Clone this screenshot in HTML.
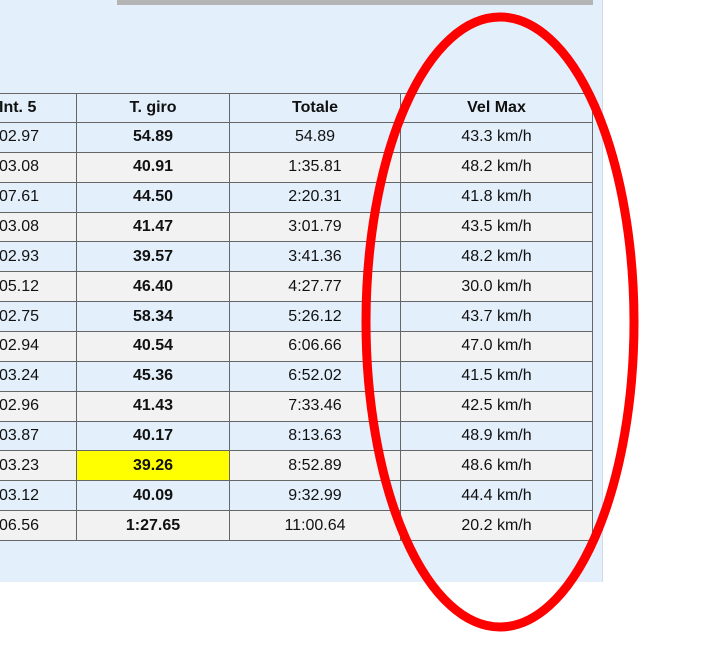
<!DOCTYPE html>
<html><head><meta charset="utf-8"><style>
body{margin:0;width:703px;height:665px;background:#fff;position:relative;overflow:hidden;font-family:"Liberation Sans",Arial,sans-serif}
#panel{position:absolute;left:0;top:0;width:603px;height:582px;background:#e3effb;border-right:1px solid #cfdbe6;box-sizing:border-box}
#bar{position:absolute;left:117px;top:0;width:476px;height:5px;background:#b4b4b4}
table{position:absolute;left:-2px;top:93px;border-collapse:collapse;table-layout:fixed}
td,th{border:1px solid #666;padding:0;text-align:center;font-size:16px;color:#111;box-sizing:border-box}
th{font-weight:bold;background:#e3effb;height:29px}
td{height:29.86px}
tr.a td{background:#e3effb}
tr.b td{background:#f2f2f2}
td.t{font-weight:bold}
td.hl{background:#ffff00!important}
td.first{text-align:left;padding-left:0}
svg{position:absolute;left:0;top:0}
</style></head><body>
<div id="panel"></div>
<div id="bar"></div>
<table>
<colgroup><col style="width:78px"><col style="width:153px"><col style="width:171px"><col style="width:192px"></colgroup>
<tr><th style="text-align:left">Int. 5</th><th>T. giro</th><th>Totale</th><th>Vel Max</th></tr>
<tbody id="tb"></tbody>
</table>
<svg width="703" height="665"><ellipse cx="500" cy="322" rx="134" ry="305" fill="none" stroke="#ff0000" stroke-width="9"/></svg>
<script>
const int5=["02.97","03.08","07.61","03.08","02.93","05.12","02.75","02.94","03.24","02.96","03.87","03.23","03.12","06.56"];
const lap=["54.89","40.91","44.50","41.47","39.57","46.40","58.34","40.54","45.36","41.43","40.17","39.26","40.09","1:27.65"];
const tot=["54.89","1:35.81","2:20.31","3:01.79","3:41.36","4:27.77","5:26.12","6:06.66","6:52.02","7:33.46","8:13.63","8:52.89","9:32.99","11:00.64"];
const vmax=["43.3","48.2","41.8","43.5","48.2","30.0","43.7","47.0","41.5","42.5","48.9","48.6","44.4","20.2"];
const best=11;
const tb=document.getElementById('tb');
for(let i=0;i<int5.length;i++){
 const tr=document.createElement('tr');
 tr.className=i%2?'b':'a';
 
 
 tr.innerHTML='<td class="first">'+int5[i]+'</td><td class="t'+(i===best?' hl':'')+'">'+lap[i]+'</td><td>'+tot[i]+'</td><td>'+vmax[i]+' km/h</td>';
 tb.appendChild(tr);
}
</script>
</body></html>
